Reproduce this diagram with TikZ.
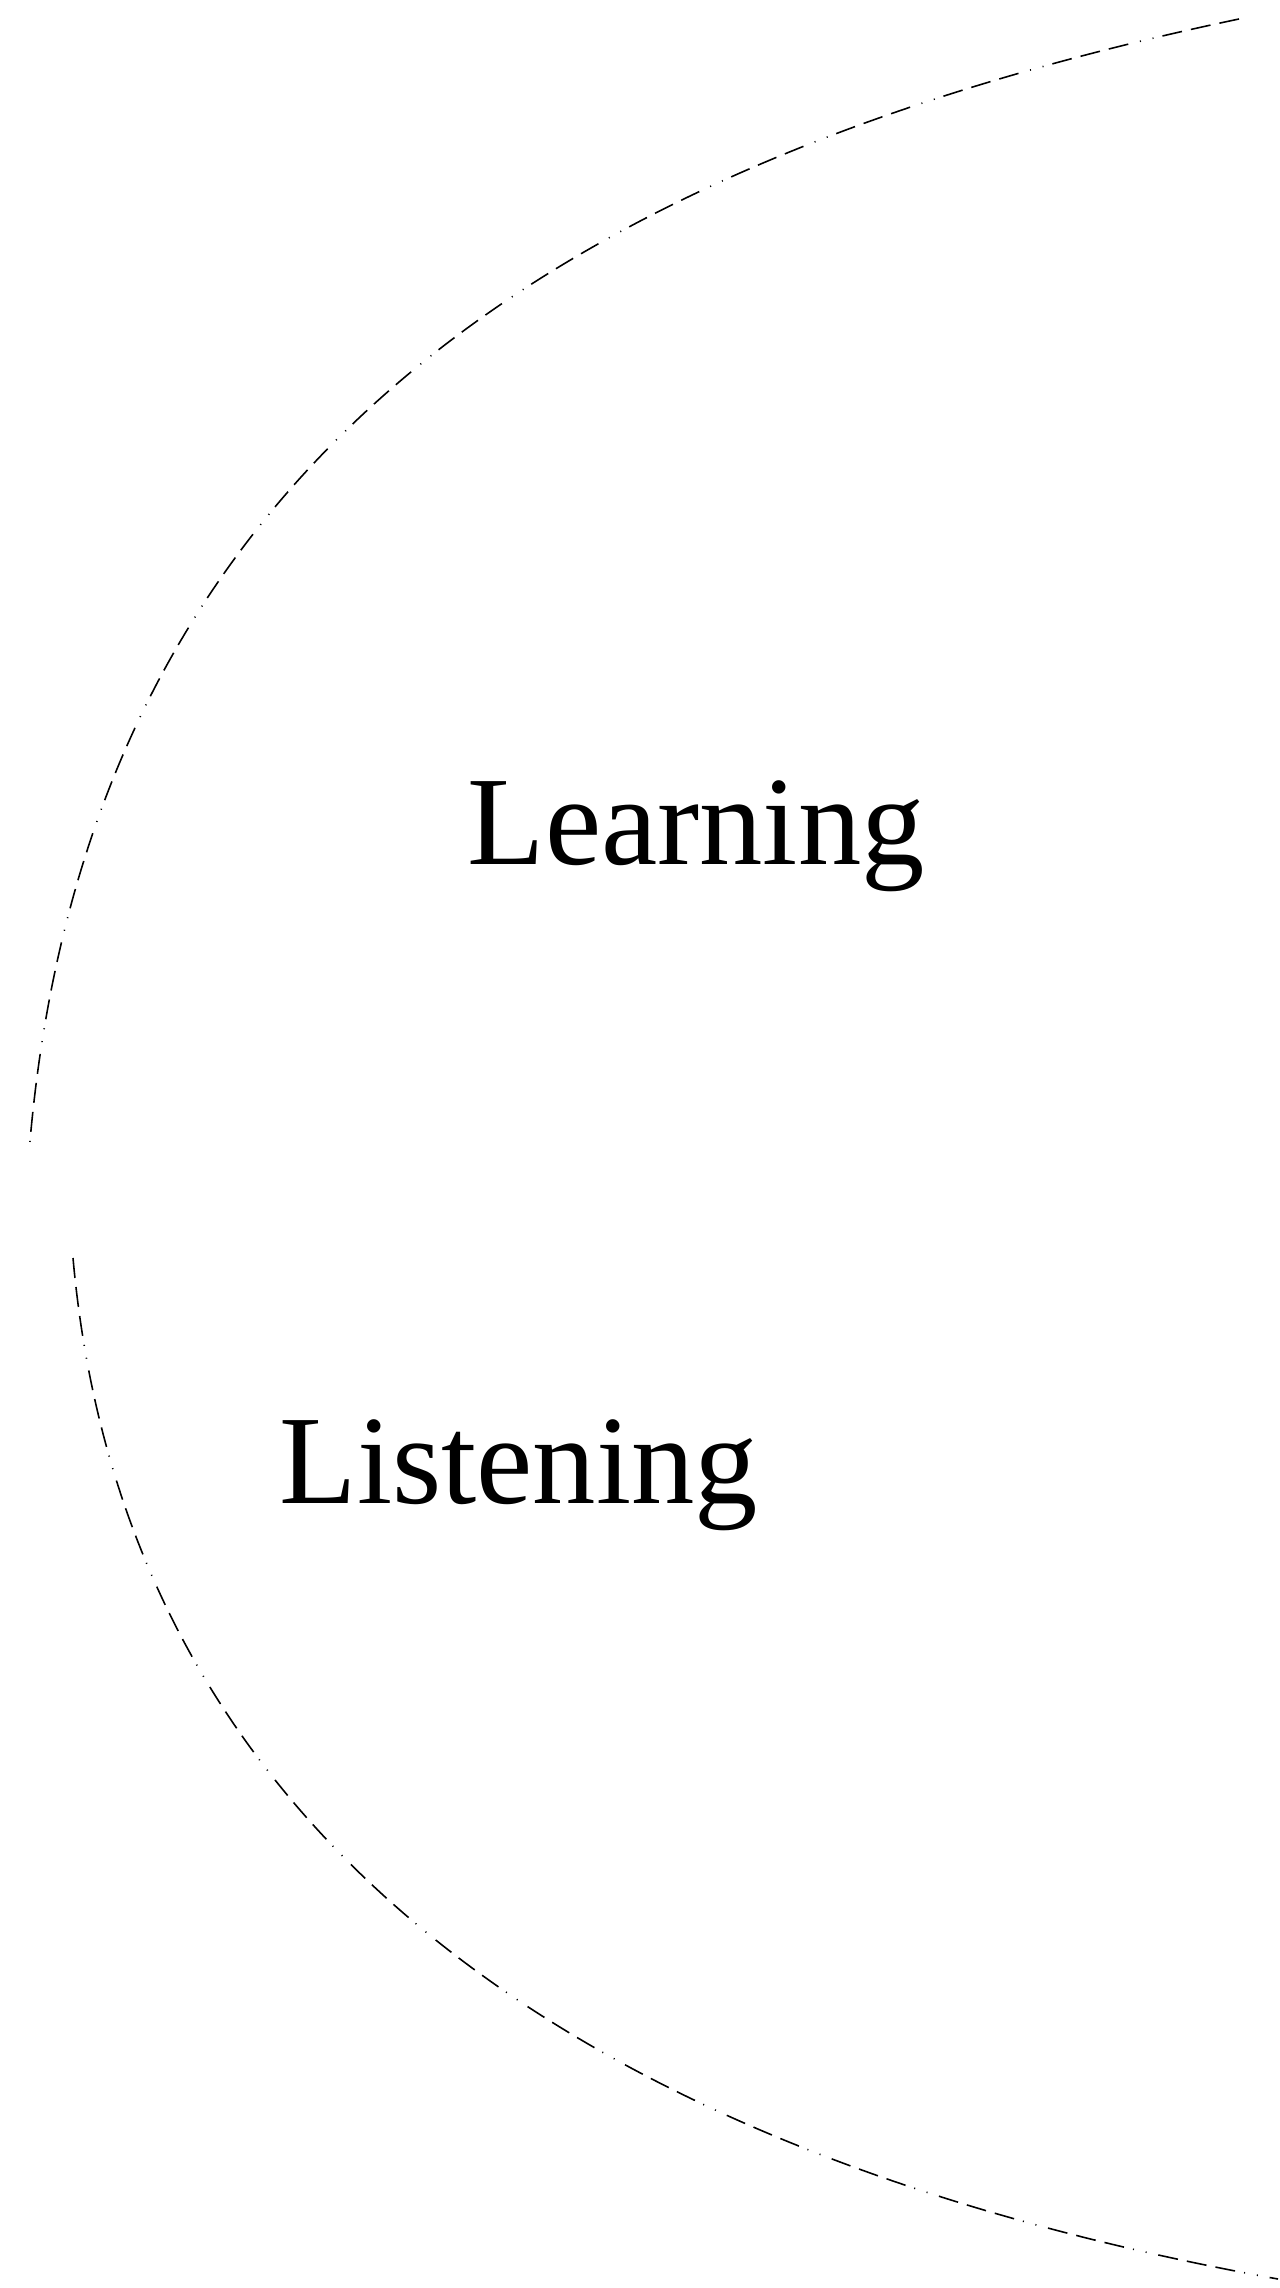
\documentclass[tikz,border=0pt]{standalone}
\usepackage{fontspec}
\setmainfont{Liberation Serif}
\tikzset{
  rimline/.style={line width=0.45pt, black,
    dash pattern=on 5.7pt off 2.6pt on 5.7pt off 2.6pt on 5.7pt off 2.6pt on 0.3pt off 3.4pt on 0.3pt off 3.4pt},
  wordlabel/.style={inner sep=0pt, anchor=base west, font=\fontsize{36}{43}\selectfont}
}
\begin{document}
\begin{tikzpicture}[x=0.01cm, y=-0.01cm]
        \useasboundingbox (0,0) rectangle (1280,2288);
        \draw[rimline] (1239,19) .. controls (554,163) and (84,468) .. (29,1153);
        \draw[rimline] (73,1258) .. controls (129,1883) and (653,2166) .. (1278,2279);
        \node[wordlabel] (learn) at (467,864) {Learning};
        \node[wordlabel] (listen) at (279,1503) {Listening};
    \end{tikzpicture}
\end{document}
